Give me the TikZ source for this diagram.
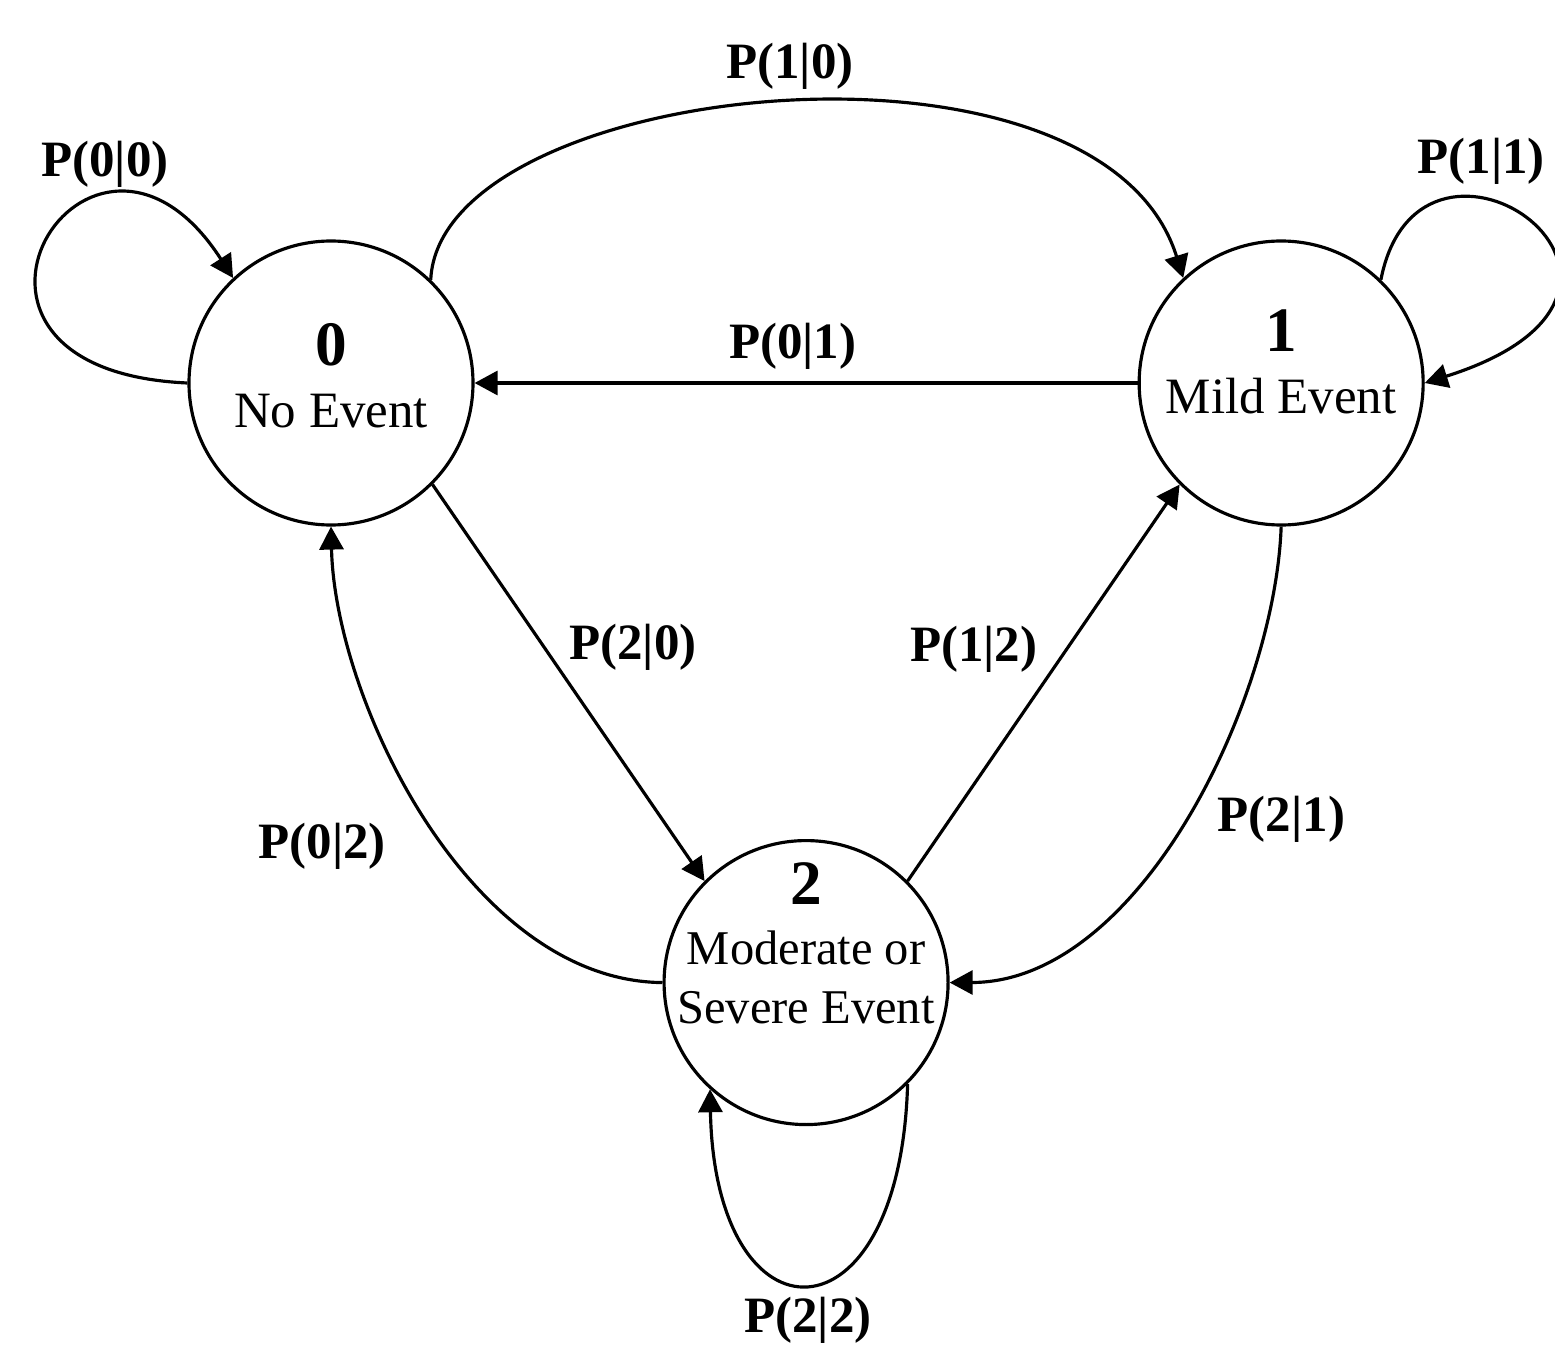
\documentclass[tikz,border=0pt]{standalone}
\usepackage{fontspec}
\setmainfont{Liberation Serif}
\usetikzlibrary{positioning, arrows.meta, calc}

\newcommand{\stnum}{\fontsize{18}{18}\selectfont\bfseries}
\newcommand{\sttext}[2]{\raisebox{#1}[0pt][0pt]{\begin{tabular}{@{}c@{}}#2\end{tabular}}}

\begin{document}
\begin{tikzpicture}[
  font=\fontsize{14.5}{17.5}\selectfont,
  state/.style={draw, circle, line width=0.9pt, minimum size=2.84cm, inner sep=0pt},
  prob/.style={font=\fontsize{14.5}{17}\selectfont\bfseries},
  arrow/.style={-{Triangle[length=2.3mm, width=2.4mm]}, line width=0.9pt}
]
\useasboundingbox (0,0) rectangle (15.55,13.44);

% Nodes
\node[state] (n0) at (3.31,9.61) {\sttext{-0.14cm}{{\stnum 0}\\No Event}};
\node[state, right=6.63cm of n0] (n1) {\sttext{0cm}{{\stnum 1}\\Mild Event}};
\coordinate (mid) at ($(n0)!0.5!(n1)$);
\node[state, below=4.56cm of mid, font=\fontsize{13.8}{16.8}\selectfont] (n2) {\sttext{0.18cm}{{\stnum 2}\\Moderate or\\Severe Event}};

% Arrows
\draw[arrow] (n0.180) .. controls (-1.05,9.74) and (0.90,12.88) .. (n0.133) node[prob, above, pos=0.7] (p00) {P(0|0)};
\draw[arrow] (n0.46) .. controls (4.40,12.64) and (11.00,13.34) .. (n1.133) node[prob, above, pos=0.51] (p10) {P(1|0)};
\draw[arrow] (n1.46) .. controls (14.20,12.64) and (17.20,10.54) .. (n1.0) node[prob, above, pos=0.35] (p11) {P(1|1)};
\draw[arrow] (n1) -- (n0) node[prob, above, pos=0.52] (p01) {P(0|1)};
\draw[arrow] (n0.-45) -- (n2.135) node[prob, right=0.12cm, pos=0.41] (p20) {P(2|0)};
\draw[arrow] (n2.45) -- (n1.-135) node[prob, left=0.16cm, pos=0.585] (p12) {P(1|2)};
\draw[arrow] (n2.180) .. controls (4.70,3.63) and (3.35,6.44) .. (n0.-90) node[prob, left=0.45cm, pos=0.45] (p02) {P(0|2)};
\draw[arrow] (n1.-90) .. controls (12.75,6.44) and (11.40,3.62) .. (n2.0) node[prob, right=0.2cm, pos=0.5] (p21) {P(2|1)};
\draw[arrow] (n2.-45) .. controls (9.00,-0.06) and (7.15,-0.06) .. (n2.-132) node[prob, below, pos=0.5] (p22) {P(2|2)};

\end{tikzpicture}
\end{document}
